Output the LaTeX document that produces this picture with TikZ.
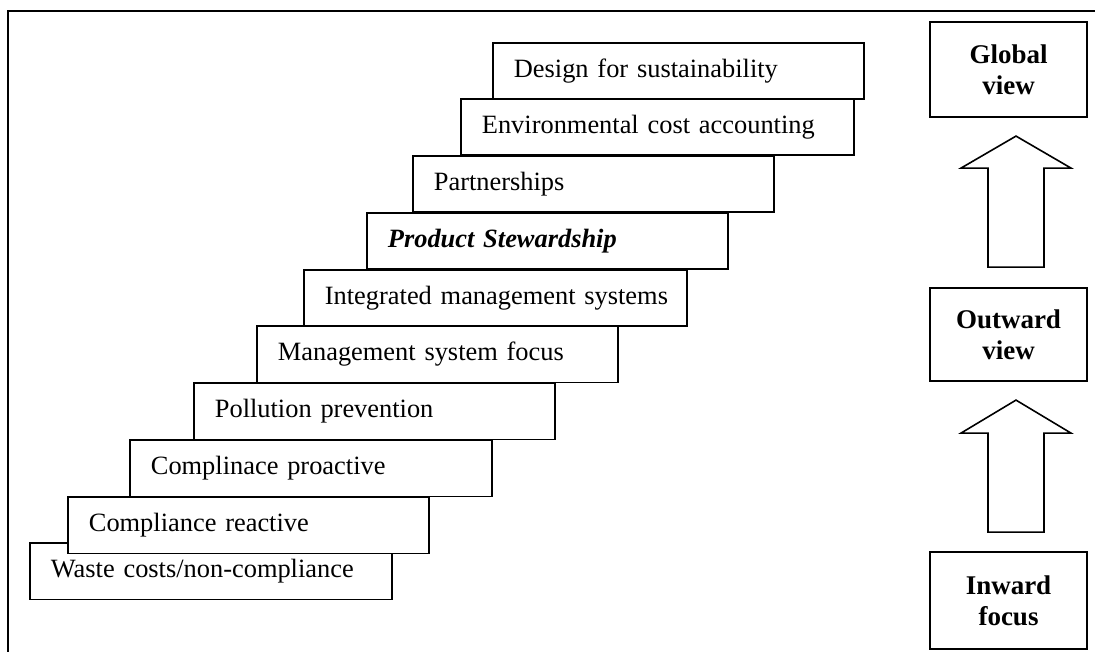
\documentclass[tikz,border=0pt]{standalone}
\usepackage{fontspec}
\setmainfont{Liberation Serif}
\usetikzlibrary{calc}

\tikzset{
  stepbox/.style={draw, fill=white, line width=1.8pt, anchor=north west,
    inner xsep=0pt, inner ysep=0pt, minimum height=56.5pt, text width=#1,
    text height=18.5pt, text depth=5.8pt, align=left,
    execute at begin node={\hspace*{21pt}},
    font=\fontsize{26.4}{30}\selectfont},
  viewbox/.style={draw, line width=1.8pt, minimum width=157pt,
    minimum height=95pt, inner sep=0pt, align=center,
    font=\fontsize{27}{31}\selectfont\bfseries},
  blockarrow/.style={draw, line width=1.6pt, line join=miter}
}

\begin{document}
\begin{tikzpicture}[x=1pt,y=-1pt]
        \useasboundingbox (0,0) rectangle (1095,652);
        \clip (0,0) rectangle (1095,652);
        % outer frame, runs off the page on the right and bottom
        \draw [line width=2.4pt] (8,11) rectangle (1120,680);
        % the staircase, lowest step first so the upper ones sit on top
        \node [stepbox=362pt] (waste) at (29,542) {Waste costs/non-compliance};
        \node [stepbox=361pt] (reactive) at (67,496) {Compliance reactive};
        \node [stepbox=362pt] (proactive) at (129,439) {Complinace proactive};
        \node [stepbox=361pt] (pollution) at (193,382) {Pollution prevention};
        \node [stepbox=361pt] (mgmt) at (256,325) {Management system focus};
        \node [stepbox=383pt] (integrated) at (303,269) {Integrated management systems};
        \node [stepbox=361pt] (steward) at (366,212) {\textbf{\textit{Product Stewardship}}};
        \node [stepbox=361pt] (partners) at (412,155) {Partnerships};
        \node [stepbox=393pt] (costacc) at (460,98) {Environmental cost accounting};
        \node [stepbox=371pt] (design) at (492,42) {Design for sustainability};
        % views on the right
        \node [viewbox] (global) at (1008.5,69.5) {Global\\view};
        \node [viewbox, minimum height=93pt] (outward) at (1008.5,334.5) {Outward\\view};
        \node [viewbox, minimum height=97pt] (inward) at (1008.5,600.5) {Inward\\focus};
        % block arrows between the views
        \coordinate (upper) at ($(outward.north)+(7.5,-20)$);
        \coordinate (lower) at ($(inward.north)+(7.5,-19)$);
        \draw [blockarrow, shift={(upper)}] (-28,0) -- (-28,-99) -- (-55,-99) -- (0,-131)
            -- (55,-99) -- (28,-99) -- (28,0) -- cycle;
        \draw [blockarrow, shift={(lower)}] (-28,0) -- (-28,-99) -- (-55,-99) -- (0,-132)
            -- (55,-99) -- (28,-99) -- (28,0) -- cycle;
\end{tikzpicture}
\end{document}
